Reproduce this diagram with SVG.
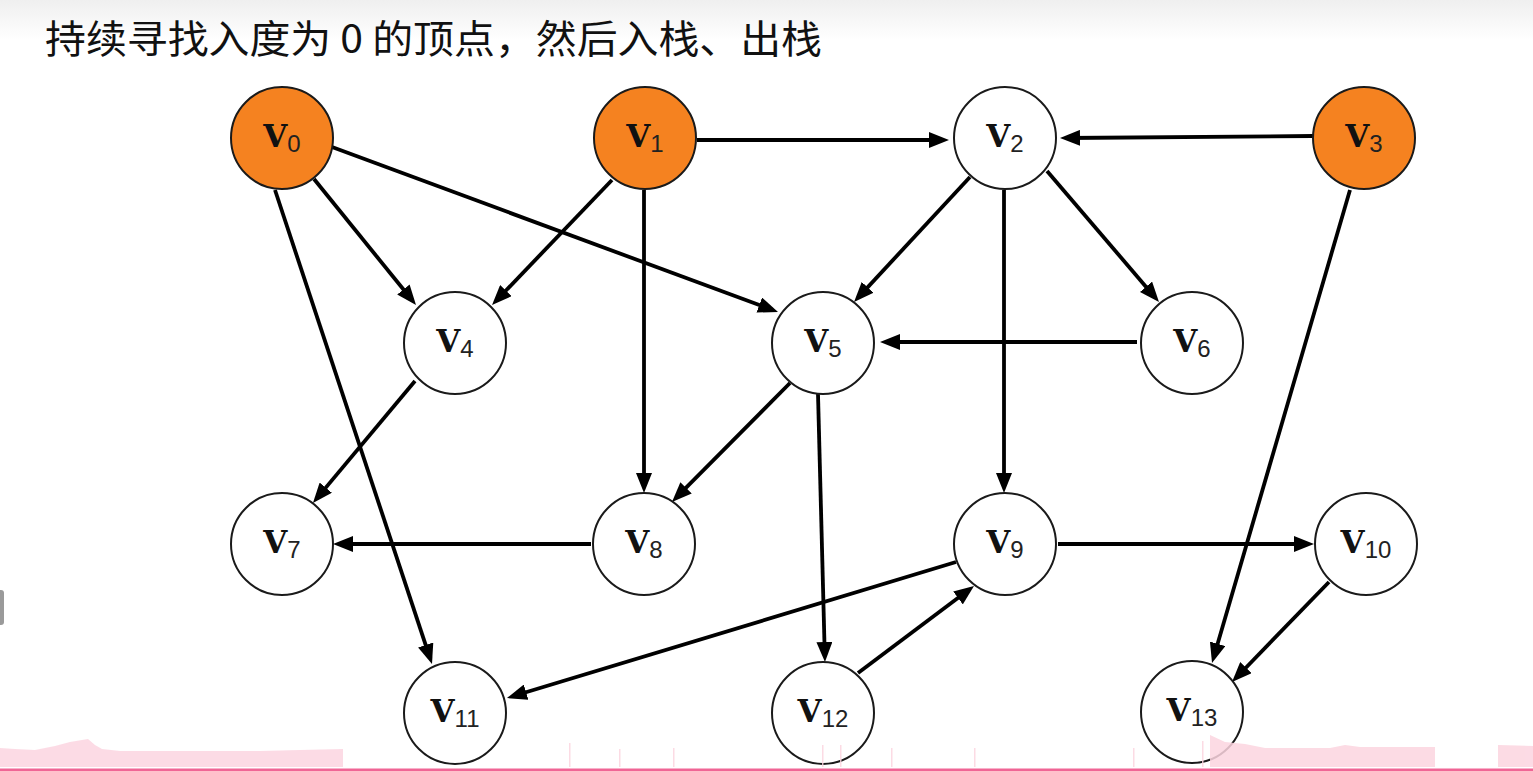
<svg xmlns="http://www.w3.org/2000/svg" width="1533" height="771" viewBox="0 0 1533 771">
  <defs>
    <linearGradient id="topfade" x1="0" y1="0" x2="0" y2="1">
      <stop offset="0" stop-color="#efefef"/>
      <stop offset="1" stop-color="#ffffff"/>
    </linearGradient>
    <marker id="arrow" markerUnits="userSpaceOnUse" markerWidth="20" markerHeight="16" refX="14" refY="8" orient="auto">
      <path d="M0,0 L20,8 L0,16 z" fill="#000"/>
    </marker>
    <style>
      .edge { stroke: #000; stroke-width: 3.8; fill: none; marker-end: url(#arrow); }
      .node circle { stroke: #1a1a1a; stroke-width: 2; fill: #ffffff; }
      .node.src circle { fill: #f58220; }
      .lbl { font-family: "DejaVu Serif", "Liberation Serif", serif; font-weight: bold; font-size: 31px; fill: #111; text-anchor: middle; }
      .sub { font-family: "Liberation Sans", Arial, sans-serif; font-weight: normal; font-size: 24px; fill: #222; }
      .title { font-family: "Noto Sans CJK SC", "Noto Sans", sans-serif; font-size: 39px; fill: #111; }
    </style>
  </defs>

  <rect x="0" y="0" width="1533" height="771" fill="#ffffff"/>
  <rect x="0" y="0" width="1533" height="40" fill="url(#topfade)"/>
  <rect x="-3" y="590" width="7" height="35" rx="3" fill="#9a9a9a"/>

  <text class="title" x="45" y="53" textLength="777" lengthAdjust="spacingAndGlyphs">持续寻找入度为 0 的顶点，然后入栈、出栈</text>

  <g id="connectors">
    <line class="edge" x1="314" y1="179" x2="412.2" y2="300.3"/>
    <line class="edge" x1="332" y1="147" x2="772.4" y2="309.9"/>
    <line class="edge" x1="275" y1="190" x2="430.1" y2="658.3"/>
    <line class="edge" x1="697" y1="140" x2="943" y2="140"/>
    <line class="edge" x1="612" y1="180" x2="496.2" y2="300.7"/>
    <line class="edge" x1="644" y1="190" x2="644" y2="487"/>
    <line class="edge" x1="1313" y1="136" x2="1066" y2="138"/>
    <line class="edge" x1="970" y1="177" x2="858.1" y2="297.6"/>
    <line class="edge" x1="1047" y1="171" x2="1155.1" y2="297.4"/>
    <line class="edge" x1="1004" y1="190" x2="1004" y2="487"/>
    <line class="edge" x1="1350" y1="190" x2="1213.7" y2="657.2"/>
    <line class="edge" x1="1137" y1="342" x2="886" y2="342"/>
    <line class="edge" x1="415" y1="381" x2="316.8" y2="498.4"/>
    <line class="edge" x1="790" y1="383" x2="676.2" y2="497.7"/>
    <line class="edge" x1="818" y1="394" x2="824.8" y2="656"/>
    <line class="edge" x1="591" y1="544" x2="339" y2="544"/>
    <line class="edge" x1="1058" y1="544" x2="1308" y2="544"/>
    <line class="edge" x1="956" y1="562" x2="512.7" y2="696.3"/>
    <line class="edge" x1="858" y1="673" x2="969.2" y2="589.6"/>
    <line class="edge" x1="1329" y1="582" x2="1236.2" y2="677.7"/>
  </g>

  <g id="v0" class="node src"><circle cx="282" cy="138" r="51"/><text class="lbl" x="282" y="147">V<tspan class="sub" dy="5">0</tspan></text></g>
  <g id="v1" class="node src"><circle cx="645" cy="138" r="51"/><text class="lbl" x="645" y="147">V<tspan class="sub" dy="5">1</tspan></text></g>
  <g id="v2" class="node"><circle cx="1005" cy="138" r="51"/><text class="lbl" x="1005" y="147">V<tspan class="sub" dy="5">2</tspan></text></g>
  <g id="v3" class="node src"><circle cx="1364" cy="138" r="51"/><text class="lbl" x="1364" y="147">V<tspan class="sub" dy="5">3</tspan></text></g>
  <g id="v4" class="node"><circle cx="455" cy="343" r="51"/><text class="lbl" x="455" y="352">V<tspan class="sub" dy="5">4</tspan></text></g>
  <g id="v5" class="node"><circle cx="823" cy="343" r="51"/><text class="lbl" x="823" y="352">V<tspan class="sub" dy="5">5</tspan></text></g>
  <g id="v6" class="node"><circle cx="1192" cy="343" r="51"/><text class="lbl" x="1192" y="352">V<tspan class="sub" dy="5">6</tspan></text></g>
  <g id="v7" class="node"><circle cx="282" cy="544" r="51"/><text class="lbl" x="282" y="553">V<tspan class="sub" dy="5">7</tspan></text></g>
  <g id="v8" class="node"><circle cx="644" cy="544" r="51"/><text class="lbl" x="644" y="553">V<tspan class="sub" dy="5">8</tspan></text></g>
  <g id="v9" class="node"><circle cx="1005" cy="544" r="51"/><text class="lbl" x="1005" y="553">V<tspan class="sub" dy="5">9</tspan></text></g>
  <g id="v10" class="node"><circle cx="1366" cy="544" r="51"/><text class="lbl" x="1366" y="553">V<tspan class="sub" dy="5">10</tspan></text></g>
  <g id="v11" class="node"><circle cx="455" cy="713" r="51"/><text class="lbl" x="455" y="722">V<tspan class="sub" dy="5">11</tspan></text></g>
  <g id="v12" class="node"><circle cx="823" cy="713" r="51"/><text class="lbl" x="823" y="722">V<tspan class="sub" dy="5">12</tspan></text></g>
  <g id="v13" class="node"><circle cx="1192" cy="712" r="51"/><text class="lbl" x="1192" y="721">V<tspan class="sub" dy="5">13</tspan></text></g>

  <g id="bottom-band" fill="#fcd5e0" opacity="0.85">
    <path d="M0,748 L15,749 L35,750 L55,746 L70,742 L88,739 L95,745 L102,749 L120,751 L200,751 L260,751 L300,750 L343,749 L343,767 L0,767 z"/>
    <path d="M1210,735 L1225,742 L1245,744 L1265,748 L1300,748 L1330,748 L1345,745 L1360,747 L1435,747 L1435,767 L1210,767 z"/>
    <path d="M1498,745 L1533,746 L1533,767 L1498,767 z"/>
    <rect x="569" y="743" width="1.5" height="24"/>
    <rect x="619" y="749" width="1.5" height="18"/>
    <rect x="673" y="748" width="1.5" height="19"/>
    <rect x="822" y="745" width="1.5" height="22"/>
    <rect x="840" y="745" width="1.5" height="22"/>
    <rect x="891" y="748" width="1.5" height="19"/>
    <rect x="974" y="748" width="1.5" height="19"/>
    <rect x="1133" y="748" width="1.5" height="19"/>
    <rect x="1202" y="741" width="1.5" height="26"/>
  </g>
  <rect x="0" y="768.5" width="1533" height="2.5" fill="#f06595"/>
</svg>
